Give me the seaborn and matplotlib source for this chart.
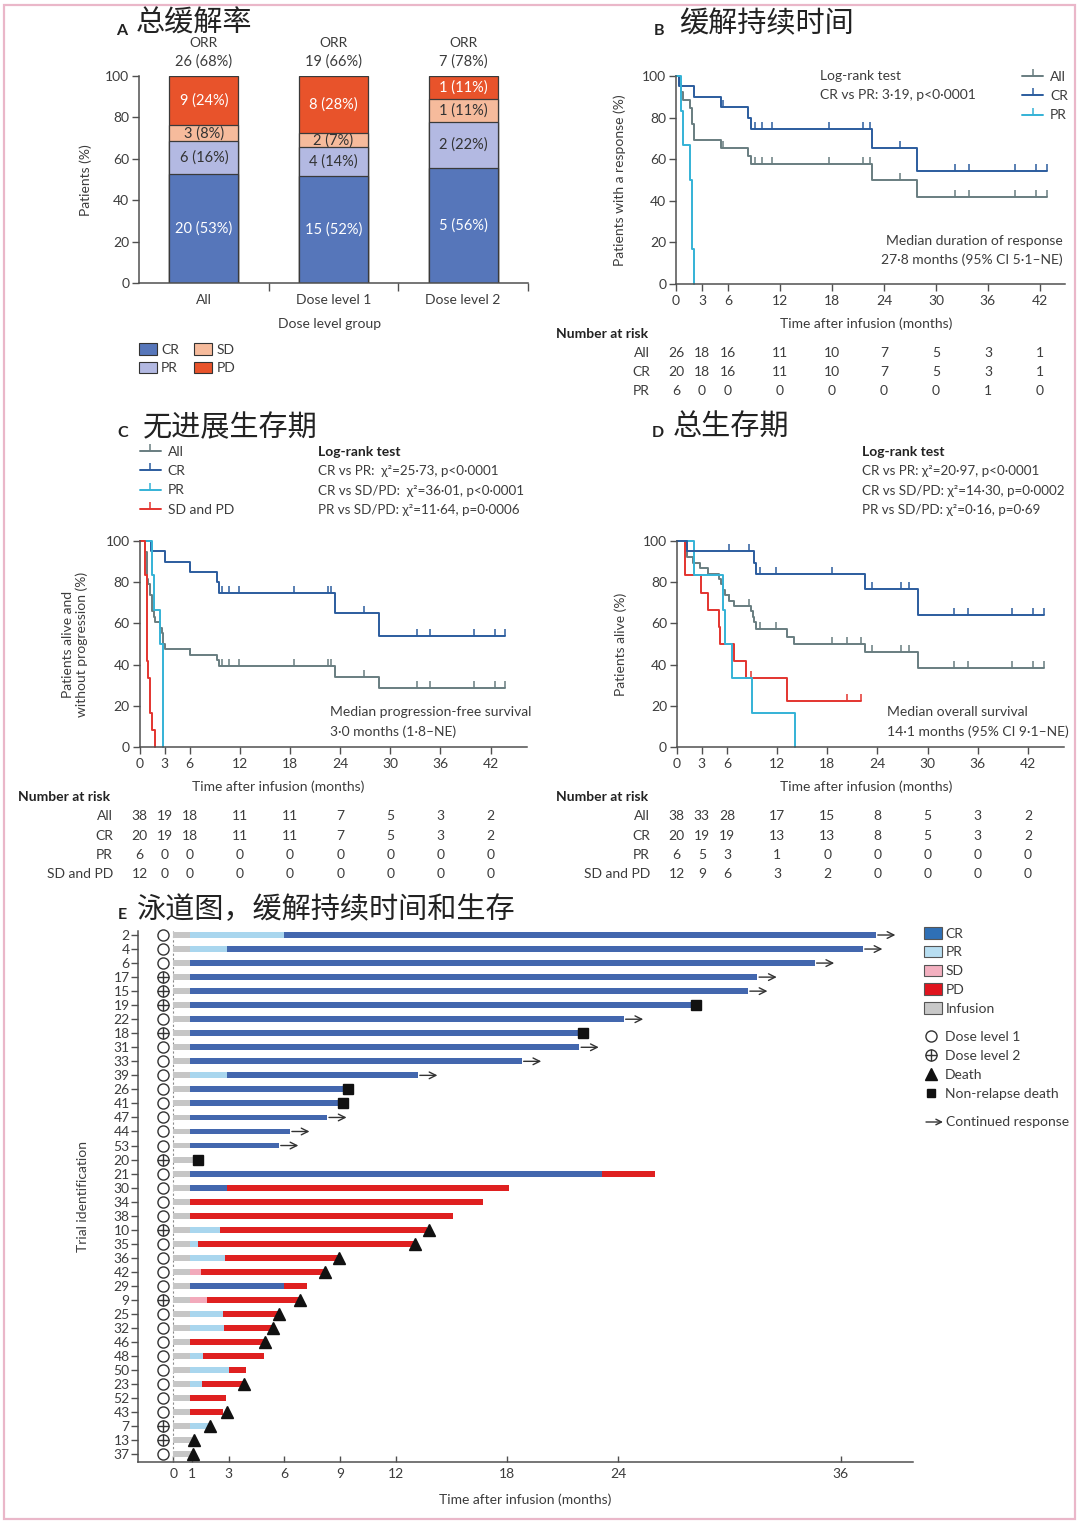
import numpy as np
import pandas as pd
import matplotlib
matplotlib.use("Agg")
import matplotlib.pyplot as plt
import matplotlib.transforms as mtrans
from matplotlib.patches import Patch, Rectangle, FancyArrowPatch
from matplotlib.lines import Line2D
from matplotlib.legend_handler import HandlerTuple
import seaborn as sns

# ------------------------------------------------------------------ data
# Panel A: best response by dose level group
groups = ["All", "Dose level 1", "Dose level 2"]
cr_n = [20, 15, 5]
pr_n = [6, 4, 2]
sd_n = [3, 2, 1]
pd_n = [9, 8, 1]
cr_pct = [53, 52, 56]
pr_pct = [16, 14, 22]
sd_pct = [8, 7, 11]
pd_pct = [24, 28, 11]
orr_n = [26, 19, 7]
orr_pct = [68, 66, 78]

# KM x ticks / number at risk columns
km_ticks = [0, 3, 6, 12, 18, 24, 30, 36, 42]

# Panel B: duration of response
b_all_t = [0.4, 0.6, 0.8, 1.6, 1.9, 2.1, 5.2, 8.3, 8.6, 22.6, 27.8]
b_all_s = [96.2, 92.3, 88.5, 84.6, 76.9, 69.2, 65.4, 61.5, 57.7, 50.0, 41.7]
b_cr_t = [0.4, 2.1, 5.2, 8.3, 8.6, 22.6, 27.8]
b_cr_s = [95.0, 90.0, 85.0, 80.0, 74.6, 65.3, 54.4]
b_pr_t = [0.6, 0.8, 1.6, 1.9, 2.1]
b_pr_s = [83.3, 66.7, 50.0, 16.7, 0.0]
b_censor = [5.4, 9.1, 9.9, 11.1, 17.7, 21.6, 22.4, 25.9, 32.2, 33.8, 39.1, 41.6, 42.8]
b_end = 42.8
b_risk_all = [26, 18, 16, 11, 10, 7, 5, 3, 1]
b_risk_cr = [20, 18, 16, 11, 10, 7, 5, 3, 1]
b_risk_pr = [6, 0, 0, 0, 0, 0, 0, 1, 0]

# Panel C: progression-free survival
c_all_t = [0.7, 0.85, 1.05, 1.2, 1.3, 1.45, 1.55, 1.7, 1.85, 2.5, 2.7, 2.8, 3.0, 6.0, 9.3, 9.5, 23.4, 28.7]
c_all_s = [94.7, 81.6, 78.9, 76.3, 73.7, 68.4, 65.8, 63.2, 60.5, 57.9, 55.3, 50.0, 47.4, 44.7, 42.1, 39.4, 34.0, 28.5]
c_cr_t = [1.4, 3.0, 6.0, 9.3, 9.5, 23.4, 28.7]
c_cr_s = [95.0, 90.0, 85.0, 80.0, 74.6, 64.9, 54.1]
c_pr_t = [1.45, 1.7, 2.5, 2.8]
c_pr_s = [83.3, 66.7, 50.0, 0.0]
c_sd_t = [0.7, 0.85, 1.05, 1.2, 1.3, 1.5, 1.85]
c_sd_s = [83.3, 41.7, 33.3, 25.0, 16.7, 8.3, 0.0]
c_censor = [6.1, 9.9, 10.7, 11.9, 18.5, 22.5, 22.9, 26.8, 33.2, 34.8, 40.0, 42.5, 43.7]
c_end = 43.7
c_risk_all = [38, 19, 18, 11, 11, 7, 5, 3, 2]
c_risk_cr = [20, 19, 18, 11, 11, 7, 5, 3, 2]
c_risk_pr = [6, 0, 0, 0, 0, 0, 0, 0, 0]
c_risk_sd = [12, 0, 0, 0, 0, 0, 0, 0, 0]

# Panel D: overall survival
d_all_t = [1.1, 1.2, 1.9, 2.8, 3.8, 5.1, 5.3, 5.5, 5.8, 6.3, 6.9, 8.9, 9.1, 9.3, 9.5, 13.2, 14.0, 22.5, 28.8]
d_all_s = [97.4, 92.1, 89.5, 86.8, 84.2, 81.6, 78.9, 76.3, 73.7, 71.1, 68.4, 65.8, 63.2, 60.5, 57.2, 53.6, 50.0, 46.1, 38.4]
d_all_censor = [6.3, 8.7, 10.0, 11.9, 18.6, 20.3, 22.0, 23.4, 26.8, 27.8, 33.2, 34.8, 40.1, 42.6, 43.9]
d_cr_t = [1.2, 9.2, 9.5, 22.5, 28.8]
d_cr_s = [95.0, 89.4, 83.8, 76.8, 64.0]
d_cr_censor = [6.3, 8.7, 10.0, 11.9, 18.6, 23.4, 26.8, 27.8, 33.2, 34.8, 40.1, 42.6, 43.9]
d_pr_t = [2.1, 5.5, 5.8, 6.6, 9.0, 14.1]
d_pr_s = [83.3, 66.7, 50.0, 33.3, 16.7, 0.0]
d_sd_t = [1.0, 2.9, 3.8, 5.0, 5.2, 6.9, 8.3, 13.2]
d_sd_s = [83.3, 75.0, 66.7, 58.3, 50.0, 41.7, 33.3, 22.2]
d_sd_censor = [8.9, 20.3, 22.0]
d_end = 43.9
d_sd_end = 22.0
d_risk_all = [38, 33, 28, 17, 15, 8, 5, 3, 2]
d_risk_cr = [20, 19, 19, 13, 13, 8, 5, 3, 2]
d_risk_pr = [6, 5, 3, 1, 0, 0, 0, 0, 0]
d_risk_sd = [12, 9, 6, 3, 2, 0, 0, 0, 0]

# Panel E: swimmer plot
trial_ids = [2, 4, 6, 17, 15, 19, 22, 18, 31, 33, 39, 26, 41, 47, 44, 53, 20, 21, 30,
             34, 38, 10, 35, 36, 42, 29, 9, 25, 32, 46, 48, 50, 23, 52, 43, 7, 13, 37]
dose_levels = [1, 1, 1, 2, 2, 2, 1, 2, 1, 1, 1, 1, 1, 1, 1, 1, 2, 1, 1,
               1, 1, 2, 1, 1, 1, 1, 2, 1, 1, 1, 1, 1, 1, 1, 1, 2, 2, 1]
segment_states = [
    ["INF", "PR", "CR"], ["INF", "PR", "CR"], ["INF", "CR"], ["INF", "CR"], ["INF", "CR"],
    ["INF", "CR"], ["INF", "CR"], ["INF", "CR"], ["INF", "CR"], ["INF", "CR"],
    ["INF", "PR", "CR"], ["INF", "CR"], ["INF", "CR"], ["INF", "CR"], ["INF", "CR"],
    ["INF", "CR"], ["INF"], ["INF", "CR", "PD"], ["INF", "CR", "PD"], ["INF", "PD"],
    ["INF", "PD"], ["INF", "PR", "PD"], ["INF", "PR", "PD"], ["INF", "PR", "PD"], ["INF", "SD", "PD"],
    ["INF", "CR", "PD"], ["INF", "SD", "PD"], ["INF", "PR", "PD"], ["INF", "PR", "PD"], ["INF", "PD"],
    ["INF", "PR", "PD"], ["INF", "PR", "PD"], ["INF", "PR", "PD"], ["INF", "PD"], ["INF", "PD"],
    ["INF", "PR"], ["INF"], ["INF"]]
segment_ends = [
    [0.9, 6.0, 37.9], [0.9, 2.9, 37.2], [0.9, 34.6], [0.9, 31.5], [0.9, 31.0],
    [0.9, 28.0], [0.9, 24.3], [0.9, 21.9], [0.9, 21.9], [0.9, 18.8],
    [0.9, 2.9, 13.2], [0.9, 9.2], [0.9, 8.9], [0.9, 8.3], [0.9, 6.3],
    [0.9, 5.7], [1.1], [0.9, 23.1, 26.0], [0.9, 2.9, 18.1], [0.9, 16.7],
    [0.9, 15.1], [0.9, 2.5, 13.7], [0.9, 1.35, 13.0], [0.9, 2.8, 8.9], [0.9, 1.5, 8.2],
    [0.9, 6.0, 7.2], [0.9, 1.8, 6.8], [0.9, 2.7, 5.7], [0.9, 2.75, 5.4], [0.9, 4.9],
    [0.9, 1.6, 4.9], [0.9, 3.0, 3.9], [0.9, 1.55, 3.8], [0.9, 2.85], [0.9, 2.7],
    [0.9, 2.0], [1.0], [1.0]]
outcomes = ["cont", "cont", "cont", "cont", "cont", "nrd", "cont", "nrd", "cont", "cont",
            "cont", "nrd", "nrd", "cont", "cont", "cont", "nrd", "none", "none", "none",
            "none", "death", "death", "death", "death", "none", "death", "death", "death", "death",
            "none", "none", "death", "none", "death", "death", "death", "death"]
outcome_times = [37.9, 37.2, 34.6, 31.5, 31.0, 28.2, 24.3, 22.1, 21.9, 18.8,
                 13.2, 9.43, 9.16, 8.3, 6.3, 5.7, 1.31, np.nan, np.nan, np.nan,
                 np.nan, 13.8, 13.05, 8.95, 8.2, np.nan, 6.83, 5.7, 5.4, 4.94,
                 np.nan, np.nan, 3.8, np.nan, 2.88, 2.0, 1.11, 1.08]
swim_ticks = [0, 1, 3, 6, 9, 12, 18, 24, 36]

# ------------------------------------------------------------------ style
sns.set_theme(style="ticks")
plt.rcParams['font.family'] = ['Lato', 'Noto Sans CJK SC', 'DejaVu Sans']
plt.rcParams['axes.unicode_minus'] = False

TXT = "#3c3c3c"
AXC = "#505050"
W, H = 1080, 1523
fig = plt.figure(figsize=(W / 100, H / 100), dpi=100)
fig.patch.set_facecolor("white")
fig.add_artist(Rectangle((4 / W, 4 / H), 1 - 9 / W, 1 - 9 / H, transform=fig.transFigure,
                         fill=False, edgecolor="#eab7c9", lw=1.6))


def rect(x0, x1, yt, yb):
    return [x0 / W, 1 - yb / H, (x1 - x0) / W, (yb - yt) / H]


def ftext(x, y, s, **kw):
    kw.setdefault('va', 'center')
    kw.setdefault('ha', 'left')
    kw.setdefault('color', TXT)
    kw.setdefault('fontsize', 10)
    return fig.text(x / W, 1 - y / H, s, **kw)


def style_axes(ax):
    for s in ['top', 'right']:
        ax.spines[s].set_visible(False)
    for s in ['left', 'bottom']:
        ax.spines[s].set_color(AXC)
        ax.spines[s].set_linewidth(1.1)
    ax.tick_params(colors=AXC, labelcolor=TXT, labelsize=10, length=5, width=1, pad=2)
    ax.set_facecolor('none')
    ax.grid(False)
    ax.set_xlabel("")
    ax.set_ylabel("")


def title(xl, yl, letter, xt, yt, cn):
    ftext(xl, yl, letter, fontweight='bold', fontsize=11.5, ha='center', color="#222")
    ftext(xt, yt, cn, fontsize=21, family=['Noto Sans CJK SC', 'DejaVu Sans'], color="#222")


# ------------------------------------------------------------------ panel A
axA = fig.add_axes(rect(139, 528, 76, 283))
totals = np.array(cr_n) + np.array(pr_n) + np.array(sd_n) + np.array(pd_n)
p_cr = np.array(cr_n) / totals * 100
p_pr = np.array(pr_n) / totals * 100
p_sd = np.array(sd_n) / totals * 100
p_pd = np.array(pd_n) / totals * 100
cum_cr = p_cr
cum_pr = cum_cr + p_pr
cum_sd = cum_pr + p_sd
cum_pd = cum_sd + p_pd
A_COL = {"CR": "#5676ba", "PR": "#b3b9e2", "SD": "#f6bb9c", "PD": "#e8532b"}
for cum, key in [(cum_pd, "PD"), (cum_sd, "SD"), (cum_pr, "PR"), (cum_cr, "CR")]:
    sns.barplot(x=groups, y=cum, color=A_COL[key], width=0.53, saturation=1,
                edgecolor="#3a3a3a", linewidth=0.9, errorbar=None, ax=axA)
style_axes(axA)
axA.set_xlim(-0.5, 2.5)
axA.set_ylim(0, 100)
axA.set_yticks([0, 20, 40, 60, 80, 100])
axA.set_xticks([0, 1, 2])
axA.set_xticklabels(groups)
axA.tick_params(axis='x', length=0, pad=8)
axA.set_xticks([0.5, 1.5, 2.5], minor=True)
axA.tick_params(axis='x', which='minor', length=6, width=1, color=AXC)
for i in range(3):
    bottoms = [0, cum_cr[i], cum_pr[i], cum_sd[i]]
    tops = [cum_cr[i], cum_pr[i], cum_sd[i], cum_pd[i]]
    labels = [f"{cr_n[i]} ({cr_pct[i]}%)", f"{pr_n[i]} ({pr_pct[i]}%)",
              f"{sd_n[i]} ({sd_pct[i]}%)", f"{pd_n[i]} ({pd_pct[i]}%)"]
    cols = ["white", "#333", "#333", "white"]
    for b, t, lab, c in zip(bottoms, tops, labels, cols):
        axA.text(i, (b + t) / 2, lab, ha='center', va='center', color=c, fontsize=10.5)
transA = mtrans.blended_transform_factory(axA.transData, fig.transFigure)
for i in range(3):
    axA.text(i, 1 - 43 / H, "ORR", transform=transA, ha='center', va='center', color=TXT, fontsize=10)
    axA.text(i, 1 - 62 / H, f"{orr_n[i]} ({orr_pct[i]}%)", transform=transA, ha='center',
             va='center', color=TXT, fontsize=10.5)
ftext(86, 180, "Patients (%)", rotation=90, ha='center')
ftext(330, 324, "Dose level group", ha='center')
legA = [Patch(facecolor=A_COL[k], edgecolor="#333", lw=0.8, label=k) for k in ["CR", "PR", "SD", "PD"]]
fig.legend(handles=legA, loc='upper left', bbox_to_anchor=(139 / W, 1 - 343 / H), ncol=2,
           frameon=False, fontsize=10, handlelength=1.3, handleheight=0.9, handletextpad=0.3,
           columnspacing=1.1, labelspacing=0.45, borderpad=0, borderaxespad=0, labelcolor=TXT)
title(122, 31, "A", 136, 24, "总缓解率")

# ------------------------------------------------------------------ KM helpers
K_ALL, K_CR, K_PR, K_SD = "#687d80", "#2b5c9e", "#34b2d6", "#e3342f"


def km_xy(times, surv, end):
    x = [0.0] + list(times)
    y = [100.0] + list(surv)
    if y[-1] > 0 and end > x[-1]:
        x.append(end)
        y.append(y[-1])
    return np.array(x), np.array(y)


def draw_km(ax, t, s, end, censors, color):
    x, y = km_xy(t, s, end)
    sns.lineplot(x=x, y=y, drawstyle='steps-post', estimator=None, sort=False,
                 color=color, lw=1.4, ax=ax, clip_on=False)
    if censors:
        cx = np.array(censors)
        idx = np.searchsorted(x, cx, side='right') - 1
        ax.plot(cx, y[idx], ls='none', marker=2, ms=5, mew=1.1, color=color, clip_on=False)


def finish_km(ax, xmax):
    style_axes(ax)
    ax.set_xlim(0, xmax)
    ax.set_ylim(0, 100)
    ax.set_xticks(km_ticks)
    ax.set_yticks([0, 20, 40, 60, 80, 100])
    ax.tick_params(axis='x', pad=3)


def risk_table(ax, hx, hy, lab_right, row_labels, rows, row_y):
    ftext(hx, hy, "Number at risk", fontweight='bold', color="#222")
    tr = mtrans.blended_transform_factory(ax.transData, fig.transFigure)
    for lab, vals, y in zip(row_labels, rows, row_y):
        ftext(lab_right, y, lab, ha='right')
        for t, v in zip(km_ticks, vals):
            ax.text(t, 1 - y / H, str(v), transform=tr, ha='center', va='center',
                    color=TXT, fontsize=10, clip_on=False)


def km_handle(c):
    return Line2D([0], [0], color=c, lw=1.4, marker=2, ms=5, mew=1.1)


KM_LEG = dict(frameon=False, fontsize=10, handlelength=1.5, handletextpad=0.5, labelspacing=0.52,
              borderpad=0, borderaxespad=0, labelcolor=TXT)
LR = 9.6

# ------------------------------------------------------------------ panel B
axB = fig.add_axes(rect(676, 1065, 76, 284))
draw_km(axB, b_all_t, b_all_s, b_end, b_censor, K_ALL)
draw_km(axB, b_cr_t, b_cr_s, b_end, b_censor, K_CR)
draw_km(axB, b_pr_t, b_pr_s, b_end, [], K_PR)
finish_km(axB, 44.9)
ftext(620, 180, "Patients with a response (%)", rotation=90, ha='center')
ftext(866, 324, "Time after infusion (months)", ha='center')
ftext(820, 76, "Log-rank test")
ftext(820, 95, "CR vs PR: 3·19, p<0·0001")
ftext(1063, 241, "Median duration of response", ha='right')
ftext(1063, 260, "27·8 months (95% CI 5·1–NE)", ha='right')
fig.legend(handles=[km_handle(K_ALL), km_handle(K_CR), km_handle(K_PR)], labels=["All", "CR", "PR"],
           loc='upper right', bbox_to_anchor=(1068 / W, 1 - 71 / H), **KM_LEG)
risk_table(axB, 556, 334, 650, ["All", "CR", "PR"], [b_risk_all, b_risk_cr, b_risk_pr], [353, 372, 391])
title(659, 31, "B", 679, 24, "缓解持续时间")

# ------------------------------------------------------------------ panel C
axC = fig.add_axes(rect(139.5, 527, 541, 747))
draw_km(axC, c_all_t, c_all_s, c_end, c_censor, K_ALL)
draw_km(axC, c_cr_t, c_cr_s, c_end, c_censor, K_CR)
draw_km(axC, c_pr_t, c_pr_s, c_end, [], K_PR)
draw_km(axC, c_sd_t, c_sd_s, c_end, [], K_SD)
finish_km(axC, 46.35)
ftext(75, 644, "Patients alive and\nwithout progression (%)", rotation=90, ha='center', linespacing=1.15)
ftext(278, 787, "Time after infusion (months)", ha='center')
ftext(318, 452, "Log-rank test", fontweight='bold', color="#222")
ftext(318, 471, "CR vs PR:  χ²=25·73, p<0·0001", fontsize=LR)
ftext(318, 491, "CR vs SD/PD:  χ²=36·01, p<0·0001", fontsize=LR)
ftext(318, 510, "PR vs SD/PD: χ²=11·64, p=0·0006", fontsize=LR)
ftext(330, 712, "Median progression-free survival")
ftext(330, 732, "3·0 months (1·8–NE)")
fig.legend(handles=[km_handle(K_ALL), km_handle(K_CR), km_handle(K_PR), km_handle(K_SD)],
           labels=["All", "CR", "PR", "SD and PD"], loc='upper left',
           bbox_to_anchor=(140 / W, 1 - 446 / H), **KM_LEG)
risk_table(axC, 18, 797, 113, ["All", "CR", "PR", "SD and PD"],
           [c_risk_all, c_risk_cr, c_risk_pr, c_risk_sd], [816, 836, 855, 874])
title(123, 433, "C", 143, 428, "无进展生存期")

# ------------------------------------------------------------------ panel D
axD = fig.add_axes(rect(676.7, 1064, 541, 747))
draw_km(axD, d_all_t, d_all_s, d_end, d_all_censor, K_ALL)
draw_km(axD, d_sd_t, d_sd_s, d_sd_end, d_sd_censor, K_SD)
draw_km(axD, d_pr_t, d_pr_s, d_end, [], K_PR)
draw_km(axD, d_cr_t, d_cr_s, d_end, d_cr_censor, K_CR)
finish_km(axD, 46.3)
ftext(621, 644, "Patients alive (%)", rotation=90, ha='center')
ftext(866, 787, "Time after infusion (months)", ha='center')
ftext(862, 452, "Log-rank test", fontweight='bold', color="#222")
ftext(862, 471, "CR vs PR: χ²=20·97, p<0·0001", fontsize=LR)
ftext(862, 491, "CR vs SD/PD: χ²=14·30, p=0·0002", fontsize=LR)
ftext(862, 510, "PR vs SD/PD: χ²=0·16, p=0·69", fontsize=LR)
ftext(887, 712, "Median overall survival")
ftext(887, 732, "14·1 months (95% CI 9·1–NE)")
risk_table(axD, 556, 797, 650, ["All", "CR", "PR", "SD and PD"],
           [d_risk_all, d_risk_cr, d_risk_pr, d_risk_sd], [816, 836, 855, 874])
title(658, 433, "D", 673, 428, "总生存期")

# ------------------------------------------------------------------ panel E
axE = fig.add_axes(rect(138, 913, 930.8, 1462))
S_COL = {"INF": "#c6c6c6", "PR": "#a9d6ee", "SD": "#f2aabb", "PD": "#df2020", "CR": "#4367ae"}
axE.axvline(0, ls=(0, (2, 2)), color="#8a8a8a", lw=0.8, zorder=1)
for i in range(len(trial_ids)):
    starts = [0.0] + segment_ends[i][:-1]
    for st, s0, s1 in zip(segment_states[i], starts, segment_ends[i]):
        axE.barh(i, s1 - s0, left=s0, height=0.42, color=S_COL[st], lw=0, zorder=2)
    # dose level marker
    axE.plot(-0.55, i, ls='none', marker='o', ms=8, mfc='white', mec="#333", mew=1.0,
             zorder=3, clip_on=False)
    if dose_levels[i] == 2:
        axE.plot(-0.55, i, ls='none', marker='+', ms=8, mec="#333", mew=1.0, zorder=4, clip_on=False)
    t = outcome_times[i]
    if outcomes[i] == "cont":
        axE.annotate("", xy=(t + 1.05, i), xytext=(t + 0.1, i),
                     arrowprops=dict(arrowstyle='->', color="#333", lw=1.0, mutation_scale=12,
                                     shrinkA=0, shrinkB=0), zorder=4)
    elif outcomes[i] == "nrd":
        axE.plot(t, i, ls='none', marker='s', ms=6.5, color="#111", zorder=4, clip_on=False)
    elif outcomes[i] == "death":
        axE.plot(t, i, ls='none', marker='^', ms=8.5, color="#111", zorder=4, clip_on=False)
style_axes(axE)
axE.set_xlim(-1.9, 39.9)
axE.set_ylim(len(trial_ids) - 0.45, -0.3)
axE.set_yticks(range(len(trial_ids)))
axE.set_yticklabels([str(v) for v in trial_ids])
axE.tick_params(axis='y', length=5, pad=1, labelsize=10)
axE.set_xticks(swim_ticks)
axE.tick_params(axis='x', direction='in', length=4, pad=4)
ftext(83, 1196, "Trial identification", rotation=90, ha='center')
ftext(525, 1500, "Time after infusion (months)", ha='center')
title(122, 915, "E", 137, 910, "泳道图，缓解持续时间和生存")

leg_col = {"CR": "#2f70b6", "PR": "#b8def1", "SD": "#f3b0c0", "PD": "#e0141e", "Infusion": "#c8c8c8"}
h1 = [Patch(facecolor=c, edgecolor="#555", lw=0.8, label=k) for k, c in leg_col.items()]
fig.legend(handles=h1, loc='upper left', bbox_to_anchor=(924 / W, 1 - 927 / H), frameon=False,
           fontsize=10, handlelength=1.3, handleheight=0.9, handletextpad=0.25, labelspacing=0.45,
           borderpad=0, borderaxespad=0, labelcolor=TXT)
h_o = Line2D([], [], ls='none', marker='o', ms=8, mfc='white', mec="#333", mew=1.0)
h_p = Line2D([], [], ls='none', marker='+', ms=8, mec="#333", mew=1.0)
h_tri = Line2D([], [], ls='none', marker='^', ms=8, color="#111")
h_sq = Line2D([], [], ls='none', marker='s', ms=6, color="#111")
fig.legend(handles=[h_o, (h_o, h_p), h_tri, h_sq],
           labels=["Dose level 1", "Dose level 2", "Death", "Non-relapse death"],
           handler_map={tuple: HandlerTuple(ndivide=1, pad=0)},
           loc='upper left', bbox_to_anchor=(924 / W, 1 - 1031 / H), frameon=False,
           fontsize=10, handlelength=1.0, handletextpad=0.5, labelspacing=0.5,
           borderpad=0, borderaxespad=0, labelcolor=TXT)
fig.add_artist(FancyArrowPatch(
    (926 / W, 1 - 1122 / H), (943 / W, 1 - 1122 / H), transform=fig.transFigure,
    arrowstyle='->', mutation_scale=10, color="#333", lw=1.0, shrinkA=0, shrinkB=0))
ftext(946, 1122, "Continued response")

fig.savefig("out.png", dpi=100)
